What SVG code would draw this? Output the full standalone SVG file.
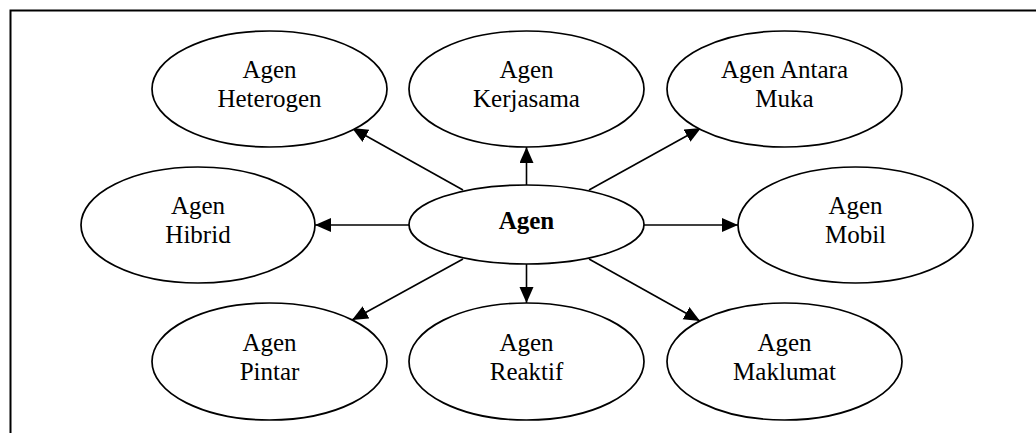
<svg xmlns="http://www.w3.org/2000/svg" width="1036" height="433" viewBox="0 0 1036 433">
  <style>
    .node ellipse { fill: #fff; stroke: #000; stroke-width: 1.7; }
    .node text { font-family: "Liberation Serif", "Times New Roman", serif; font-size: 25px; fill: #000; text-anchor: middle; }
    .node text.main { font-weight: bold; }
    .edge { stroke: #000; stroke-width: 1.6; fill: none; marker-end: url(#arrow); }
    .frame { stroke: #000; stroke-width: 2; fill: none; }
  </style>
  <defs>
    <marker id="arrow" markerUnits="userSpaceOnUse" markerWidth="18" markerHeight="16" refX="16" refY="7" orient="auto">
      <path d="M0,0 L16,7 L0,14 Z" fill="#000"/>
    </marker>
  </defs>
  <rect width="1036" height="433" fill="#fff"/>
  <!-- frame: top and left edges -->
  <path class="frame" d="M10.5,433 L10.5,10.5 L1036,10.5"/>

  <g id="connectors">
    <line class="edge" x1="463" y1="190" x2="352" y2="128"/>
    <line class="edge" x1="526.5" y1="185" x2="526.5" y2="147"/>
    <line class="edge" x1="589" y1="190" x2="701" y2="128"/>
    <line class="edge" x1="409" y1="225" x2="315" y2="225"/>
    <line class="edge" x1="644" y1="225" x2="738" y2="225"/>
    <line class="edge" x1="463" y1="259" x2="352" y2="320"/>
    <line class="edge" x1="526.5" y1="264" x2="526.5" y2="303"/>
    <line class="edge" x1="589" y1="259" x2="700" y2="321"/>
  </g>

  <g id="agen" class="node">
    <ellipse cx="526.5" cy="224.5" rx="117.5" ry="39.5"/>
    <text class="main" x="526.5" y="229">Agen</text>
  </g>
  <g id="agen-heterogen" class="node">
    <ellipse cx="269.5" cy="89" rx="117.5" ry="58"/>
    <text x="269.5" y="78">Agen</text>
    <text x="269.5" y="107">Heterogen</text>
  </g>
  <g id="agen-kerjasama" class="node">
    <ellipse cx="526.5" cy="89" rx="117.5" ry="58"/>
    <text x="526.5" y="78">Agen</text>
    <text x="526.5" y="107">Kerjasama</text>
  </g>
  <g id="agen-antara-muka" class="node">
    <ellipse cx="784.5" cy="89" rx="117.5" ry="58"/>
    <text x="784.5" y="78">Agen Antara</text>
    <text x="784.5" y="107">Muka</text>
  </g>
  <g id="agen-hibrid" class="node">
    <ellipse cx="198" cy="225" rx="117" ry="58"/>
    <text x="198" y="214">Agen</text>
    <text x="198" y="243">Hibrid</text>
  </g>
  <g id="agen-mobil" class="node">
    <ellipse cx="855.5" cy="225" rx="117.5" ry="58"/>
    <text x="855.5" y="214">Agen</text>
    <text x="855.5" y="243">Mobil</text>
  </g>
  <g id="agen-pintar" class="node">
    <ellipse cx="269.5" cy="361.5" rx="117.5" ry="58.5"/>
    <text x="269.5" y="350.5">Agen</text>
    <text x="269.5" y="379.5">Pintar</text>
  </g>
  <g id="agen-reaktif" class="node">
    <ellipse cx="526.5" cy="361.5" rx="117.5" ry="58.5"/>
    <text x="526.5" y="350.5">Agen</text>
    <text x="526.5" y="379.5">Reaktif</text>
  </g>
  <g id="agen-maklumat" class="node">
    <ellipse cx="784.5" cy="361.5" rx="117.5" ry="58.5"/>
    <text x="784.5" y="350.5">Agen</text>
    <text x="784.5" y="379.5">Maklumat</text>
  </g>
</svg>
